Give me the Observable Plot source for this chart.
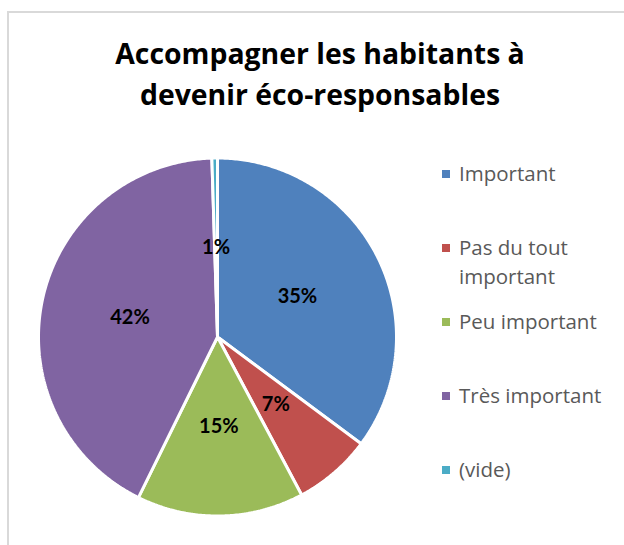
<!DOCTYPE html>
<html>
<head>
<meta charset="utf-8">
<script src="https://cdn.jsdelivr.net/npm/d3@7"></script>
<script src="https://cdn.jsdelivr.net/npm/@observablehq/plot@0.6"></script>
<style>
  html, body { margin: 0; padding: 0; background: #fff; }
  #page { position: relative; width: 624px; height: 545px; overflow: hidden; font-family: "Open Sans", sans-serif; }
  #frame { position: absolute; left: 7px; top: 11px; width: 700px; height: 700px; border-left: 2px solid #d9d9d9; border-top: 2px solid #d9d9d9; }
  #title { position: absolute; left: 20px; width: 600px; top: 33px; text-align: center; font-weight: bold; font-size: 28.4px; line-height: 40.7px; color: #000; }
  #chart { position: absolute; left: 0; top: 0; }
  .item { position: absolute; left: 442px; width: 182px; }
  .item .sw { position: absolute; left: 0; top: 11px; width: 8px; height: 8px; }
  .item .lab { position: absolute; left: 17px; top: 0; width: 162px; font-size: 20.5px; line-height: 29px; color: #595959; }
</style>
</head>
<body>
<div id="page">
  <div id="frame"></div>
  <div id="title"></div>
  <div id="chart"></div>
  <div id="legend"></div>
</div>
<script>
const titleLines = ["Accompagner les habitants à", "devenir éco-responsables"];
const categories = ["Important", "Pas du tout important", "Peu important", "Très important", "(vide)"];
const counts = [70, 14, 30, 84, 1];
const colors = ["#4F81BD", "#C0504D", "#9BBB59", "#8064A2", "#4BACC6"];

document.getElementById("title").innerHTML = titleLines.join("<br>");

const total = d3.sum(counts);
const arcs = d3.pie().sort(null).value(d => d)(counts);

// polygon outline of each slice (center + arc samples), computed from the data
const slicePts = [];
arcs.forEach((a, i) => {
  const n = Math.max(2, Math.ceil((a.endAngle - a.startAngle) / 0.01));
  slicePts.push({cat: categories[i], x: 0, y: 0});
  for (let k = 0; k <= n; k++) {
    const t = a.startAngle + (a.endAngle - a.startAngle) * k / n;
    slicePts.push({cat: categories[i], x: Math.sin(t), y: Math.cos(t)});
  }
});

const labels = arcs.map((a, i) => {
  const m = (a.startAngle + a.endAngle) / 2;
  return {x: 0.5 * Math.sin(m), y: 0.5 * Math.cos(m), text: Math.round(counts[i] / total * 100) + "%"};
});

const cx = 217, cy = 336.5, R = 179;
const W = 624, H = 545;

const plot = Plot.plot({
  width: W,
  height: H,
  marginLeft: cx - R,
  marginRight: W - (cx + R),
  marginTop: cy - R,
  marginBottom: H - (cy + R),
  x: {domain: [-1, 1], axis: null},
  y: {domain: [-1, 1], axis: null},
  color: {domain: categories, range: colors},
  style: {background: "transparent", overflow: "visible"},
  marks: [
    Plot.line(slicePts, {x: "x", y: "y", z: "cat", fill: "cat", stroke: "white", strokeWidth: 3, strokeLinejoin: "miter", curve: "linear-closed"}),
    Plot.text(labels, {x: "x", y: "y", text: "text", fontSize: 20, fontWeight: "bold", fill: "black", fontFamily: "Lato, 'Open Sans', sans-serif"})
  ]
});
document.getElementById("chart").appendChild(plot);

const legend = document.getElementById("legend");
categories.forEach((c, i) => {
  const it = document.createElement("div");
  it.className = "item";
  it.style.top = (159 + 74 * i) + "px";
  it.innerHTML = `<div class="sw" style="background:${colors[i]}"></div><div class="lab">${c}</div>`;
  legend.appendChild(it);
});
</script>
</body>
</html>
